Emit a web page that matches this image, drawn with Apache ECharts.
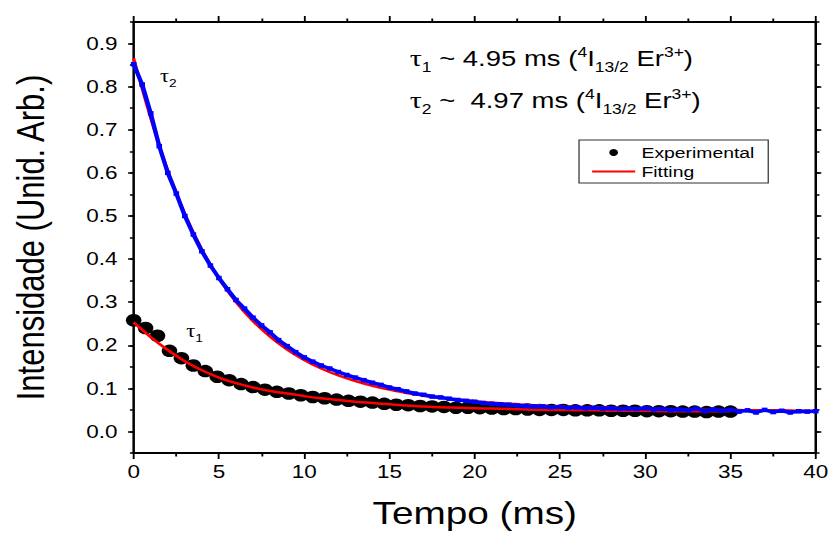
<!DOCTYPE html>
<html>
<head>
<meta charset="utf-8">
<script src="https://cdn.jsdelivr.net/npm/echarts@6/dist/echarts.min.js"></script>
<style>
html,body{margin:0;padding:0;background:#fff;overflow:hidden;}
#wrap{width:832px;height:534px;overflow:hidden;}
#chart{width:666px;height:534px;transform:scaleX(1.249249);transform-origin:0 0;}
</style>
</head>
<body>
<div id="wrap"><div id="chart"></div></div>
<script>
// ---- data ----
const xTicks = [0, 5, 10, 15, 20, 25, 30, 35, 40];
const yTicks = [0.0, 0.1, 0.2, 0.3, 0.4, 0.5, 0.6, 0.7, 0.8, 0.9];

// tau2 experimental (blue)
const blueT = [0,0.5,1,1.5,2,2.5,3,3.5,4,4.5,5,5.5,6,6.5,7,7.5,8,8.5,9,9.5,10,10.5,11,11.5,12,12.5,13,13.5,14,14.5,15,15.5,16,16.5,17,17.5,18,18.5,19,19.5,20,20.5,21,21.5,22,22.5,23,23.5,24,24.5,25,25.5,26,26.5,27,27.5,28,28.5,29,29.5,30,30.5,31,31.5,32,32.5,33,33.5,34,34.5,35,35.5,36,36.5,37,37.5,38,38.5,39,39.5,40];
const blueV = [0.852,0.805,0.738,0.662,0.600,0.552,0.500,0.457,0.418,0.385,0.356,0.330,0.305,0.285,0.264,0.246,0.230,0.212,0.198,0.184,0.172,0.162,0.153,0.146,0.138,0.131,0.125,0.119,0.113,0.108,0.102,0.098,0.093,0.088,0.085,0.081,0.079,0.076,0.073,0.071,0.069,0.066,0.064,0.063,0.062,0.060,0.059,0.058,0.058,0.056,0.057,0.055,0.056,0.054,0.055,0.053,0.054,0.052,0.053,0.052,0.054,0.051,0.052,0.050,0.051,0.049,0.053,0.047,0.051,0.048,0.050,0.046,0.049,0.044,0.050,0.045,0.048,0.044,0.047,0.046,0.047];

// tau1 experimental (black)
const blackT = [0,0.7,1.4,2.1,2.8,3.5,4.2,4.9,5.6,6.3,7.0,7.7,8.4,9.1,9.8,10.5,11.2,11.9,12.6,13.3,14.0,14.7,15.4,16.1,16.8,17.5,18.2,18.9,19.6,20.3,21.0,21.7,22.4,23.1,23.8,24.5,25.2,25.9,26.6,27.3,28.0,28.7,29.4,30.1,30.8,31.5,32.2,32.9,33.6,34.3,35.0];
const blackV = [0.258,0.240,0.222,0.187,0.170,0.153,0.140,0.127,0.119,0.110,0.103,0.097,0.092,0.088,0.084,0.080,0.077,0.074,0.071,0.069,0.067,0.064,0.062,0.061,0.059,0.058,0.057,0.055,0.055,0.054,0.053,0.052,0.052,0.051,0.050,0.050,0.050,0.049,0.049,0.049,0.048,0.048,0.048,0.047,0.047,0.047,0.046,0.046,0.045,0.046,0.046];

// fitted curves (red)
const fit2T = [0,1,2,3,4,5,6,7,8,9,10,11,12,13,14,15,16,17,18,19,20,21,22,23,24,25,26,27,28,29,30,31,32,33,34,35,36,37,38,39,40];
const fit2V = [0.866,0.727,0.605,0.505,0.422,0.355,0.300,0.256,0.220,0.190,0.166,0.146,0.130,0.117,0.106,0.097,0.089,0.083,0.078,0.074,0.070,0.067,0.064,0.062,0.060,0.058,0.057,0.056,0.055,0.054,0.053,0.052,0.051,0.051,0.050,0.050,0.049,0.049,0.049,0.048,0.048];
const fit1T = [0,1,2,3,4,5,6,7,8,9,10,11,12,13,14,15,16,17,18,19,20,21,22,23,24,25,26,27,28,29,30,31,32,33,34,35];
const fit1V = [0.253,0.219,0.189,0.163,0.142,0.125,0.112,0.102,0.094,0.088,0.082,0.077,0.073,0.069,0.066,0.063,0.060,0.058,0.056,0.055,0.054,0.053,0.052,0.051,0.050,0.050,0.049,0.049,0.048,0.048,0.048,0.047,0.047,0.047,0.047,0.047];

const zip = (a, b) => a.map((v, i) => [v, b[i]]);

// ---- chart ----
const FONT = '"Liberation Sans", Arial, sans-serif';
const SERIF = '"Liberation Serif", "Times New Roman", serif';
const chart = echarts.init(document.getElementById('chart'), null, {renderer: 'svg'});

const mctx = document.createElement('canvas').getContext('2d');
function richLine(parts, x0, base) {
  const out = [];
  let x = x0;
  parts.forEach(p => {
    const fam = p.serif ? SERIF : FONT;
    const font = p.size + 'px ' + fam;
    mctx.font = font;
    const w = mctx.measureText(p.text).width;
    out.push({
      type: 'text', x: x, y: base + (p.dy || 0) - 0.35 * p.size, z: 100,
      style: {text: p.text, font: font, fill: '#000', textAlign: 'left', textVerticalAlign: 'middle'}
    });
    x += w;
  });
  return out;
}
const M = 22, S = 14;
const line1 = richLine([
  {text: 'τ', size: 24, serif: true}, {text: '1', size: S, dy: 6},
  {text: ' ~ 4.95 ms (', size: M}, {text: '4', size: S, dy: -9},
  {text: 'I', size: M}, {text: '13/2', size: S, dy: 6},
  {text: ' Er', size: M}, {text: '3+', size: S, dy: -9}, {text: ')', size: M}
], 328, 66);
const line2 = richLine([
  {text: 'τ', size: 24, serif: true}, {text: '2', size: S, dy: 6},
  {text: ' ~  4.97 ms (', size: M}, {text: '4', size: S, dy: -9},
  {text: 'I', size: M}, {text: '13/2', size: S, dy: 6},
  {text: ' Er', size: M}, {text: '3+', size: S, dy: -9}, {text: ')', size: M}
], 328, 108);
const tau2 = richLine([{text: 'τ', size: 18, serif: true}, {text: '2', size: 11, dy: 5}], 128, 82);
const tau1 = richLine([{text: 'τ', size: 18, serif: true}, {text: '1', size: 11, dy: 5}], 149, 337);

const axisLineStyle = {color: '#000', width: 2};
const tickStyle = {color: '#000', width: 1.5};

function xAxisDef(pos, labels) {
  return {
    type: 'value', position: pos, min: 0, max: 40, interval: 5,
    axisLine: {show: true, onZero: false, lineStyle: axisLineStyle},
    axisTick: {show: true, length: 6, lineStyle: tickStyle},
    minorTick: {show: true, splitNumber: 2, length: 3.5, lineStyle: tickStyle},
    axisLabel: {show: labels, fontFamily: FONT, fontSize: 18, color: '#000', margin: 10},
    splitLine: {show: false}, minorSplitLine: {show: false},
    name: labels ? 'Tempo (ms)' : '', nameLocation: 'middle', nameGap: 44,
    nameTextStyle: {fontFamily: FONT, fontSize: 31, color: '#000'}
  };
}
function yMajor(pos, labels) {
  return {
    type: 'value', position: pos, min: -0.05, max: 0.95, interval: 0.05,
    axisLine: {show: true, onZero: false, lineStyle: axisLineStyle},
    axisTick: {show: true, customValues: yTicks, length: 4.5, lineStyle: tickStyle},
    axisLabel: {
      show: labels, customValues: yTicks, fontFamily: FONT, fontSize: 18, color: '#000', margin: 13,
      formatter: v => (Math.abs(Math.round(v * 10) - v * 10) < 1e-6 && v > -0.01 && v < 0.91) ? v.toFixed(1) : ''
    },
    splitLine: {show: false},
    name: labels ? 'Intensidade (Unid. Arb.)' : '', nameLocation: 'middle', nameRotate: 90, nameGap: 67,
    nameTextStyle: {fontFamily: FONT, fontSize: 31, color: '#000'}
  };
}
function yMinor(pos) {
  return {
    type: 'value', position: pos, min: -0.05, max: 0.95, interval: 0.05,
    axisLine: {show: false, onZero: false},
    axisTick: {show: true, length: 3, lineStyle: tickStyle},
    axisLabel: {show: false}, splitLine: {show: false}
  };
}

chart.setOption({
  animation: false,
  backgroundColor: '#fff',
  grid: {left: 107, right: 11.6, top: 22, bottom: 81, containLabel: false},
  xAxis: [xAxisDef('bottom', true), xAxisDef('top', false)],
  yAxis: [yMajor('left', true), yMinor('left'), yMajor('right', false), yMinor('right')],
  legend: {
    orient: 'vertical', left: 463.5, top: 140,
    padding: [4, 11, 3, 9.5], itemGap: 2, itemWidth: 34.5, itemHeight: 7,
    borderColor: '#333', borderWidth: 1, backgroundColor: '#fff',
    selectedMode: false,
    textStyle: {fontFamily: FONT, fontSize: 15.5, color: '#000', lineHeight: 17},
    data: [{name: 'Experimental', icon: 'circle', itemStyle: {color: '#000', opacity: 1}},
           {name: 'Fitting', itemStyle: {opacity: 0}}]
  },
  series: [
    {name: 'Experimental', type: 'scatter', data: zip(blackT, blackV), symbol: 'circle', symbolSize: 12.5,
     itemStyle: {color: '#000', opacity: 1}, z: 2},
    {name: 'Fitting', type: 'line', data: zip(fit1T, fit1V), smooth: 0.3, symbol: 'none',
     lineStyle: {color: '#ff0000', width: 2.5}, itemStyle: {color: '#ff0000'}, z: 3},
    {name: 'Fitting τ2', type: 'line', data: zip(fit2T, fit2V), smooth: 0.3, symbol: 'none',
     lineStyle: {color: '#ff0000', width: 2.5}, itemStyle: {color: '#ff0000'}, z: 3},
    {name: 'Experimental τ2', type: 'line', data: zip(blueT, blueV), symbol: 'rect', symbolSize: 4.5,
     showAllSymbol: true, lineStyle: {color: '#0000ff', width: 3.5}, itemStyle: {color: '#0000ff'}, z: 4}
  ],
  graphic: [].concat(line1, line2, tau2, tau1)
});
</script>
</body>
</html>
